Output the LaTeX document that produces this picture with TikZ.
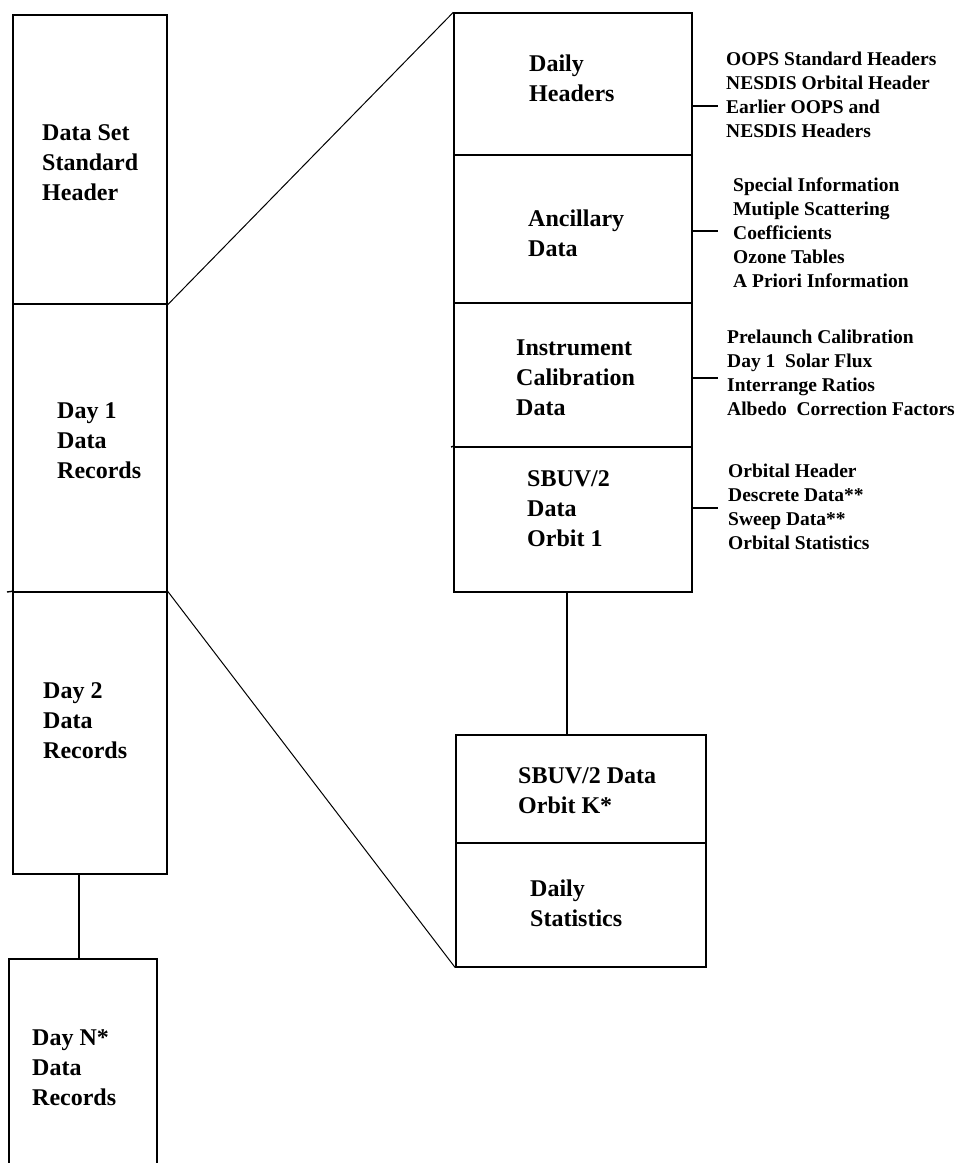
\documentclass[tikz,border=0pt]{standalone}
\usepackage{fontspec}
\setmainfont{Liberation Serif}
\usetikzlibrary{fit}
\begin{document}
\begin{tikzpicture}[x=1pt,y=-1pt,
  box/.style={draw, line width=1.4pt, inner sep=0pt},
  lbl/.style={font=\fontsize{24}{30}\selectfont\bfseries, align=left, inner sep=0pt, anchor=base west},
  lst/.style={font=\fontsize{19.5}{24}\selectfont\bfseries, align=left, inner sep=0pt, anchor=base west},
  tick/.style={line width=2.6pt},
  link/.style={line width=1.3pt},
  diag/.style={line width=1pt}]
\useasboundingbox (0,0) rectangle (973,1163);
% left column
\node[box, fit={(13,15) (167,304)}] (hdr) {};
\node[box, fit={(13,304) (167,592)}] (day1) {};
\node[box, fit={(13,592) (167,874)}] (day2) {};
\node[box, fit={(9,959) (157,1180)}] (dayN) {};
\coordinate (d2ext) at (7,592);
\draw[line width=1.4pt] (d2ext) -- (day2.north west);
\draw[link] (79,874) -- (79,959);
% right column
\node[box, fit={(454,13) (692,155)}] (dh) {};
\node[box, fit={(454,155) (692,303)}] (anc) {};
\node[box, fit={(454,303) (692,447)}] (ical) {};
\node[box, fit={(454,447) (692,592)}] (orb1) {};
\node[box, fit={(456,735) (706,843)}] (orbK) {};
\node[box, fit={(456,843) (706,967)}] (dstat) {};
\coordinate (icext) at (451,447);
\draw[line width=1.4pt] (icext) -- (orb1.north west);
\draw[link] (567,592) -- (567,735);
% diagonals
\draw[diag] (hdr.south east) -- (dh.north west);
\draw[diag] (day2.north east) -- (dstat.south west);
% ticks
\coordinate (t1) at (718,106);
\coordinate (t2) at (718,231);
\coordinate (t3) at (718,378);
\coordinate (t4) at (718,508);
\draw[tick] (dh.east |- t1) -- (t1);
\draw[tick] (anc.east |- t2) -- (t2);
\draw[tick] (ical.east |- t3) -- (t3);
\draw[tick] (orb1.east |- t4) -- (t4);
% box labels (anchored at the baseline of the last line)
\node[lbl] (thdr) at (42,200) {Data Set\\Standard\\Header};
\node[lbl] (tday1) at (57,478) {Day 1\\Data\\Records};
\node[lbl] (tday2) at (43,758) {Day 2\\Data\\Records};
\node[lbl] (tdayN) at (32,1105) {Day N*\\Data\\Records};
\node[lbl] (tdh) at (529,101) {Daily\\Headers};
\node[lbl] (tanc) at (528,256) {Ancillary\\Data};
\node[lbl] (tical) at (516,415) {Instrument\\Calibration\\Data};
\node[lbl] (torb1) at (527,546) {SBUV/2\\Data\\Orbit 1};
\node[lbl] (torbK) at (518,813) {SBUV/2 Data\\Orbit K*};
\node[lbl] (tdstat) at (530,926) {Daily\\Statistics};
% side lists
\node[lst] (l1) at (726,137) {OOPS Standard Headers\\NESDIS Orbital Header\\Earlier OOPS and\\NESDIS Headers};
\node[lst] (l2) at (733,287) {Special Information\\Mutiple Scattering\\Coefficients\\Ozone Tables\\A Priori Information};
\node[lst] (l3) at (727,415) {Prelaunch Calibration\\Day 1\ \ Solar Flux\\Interrange Ratios\\Albedo\ \ Correction Factors};
\node[lst] (l4) at (728,549) {Orbital Header\\Descrete Data**\\Sweep Data**\\Orbital Statistics};
\end{tikzpicture}
\end{document}
